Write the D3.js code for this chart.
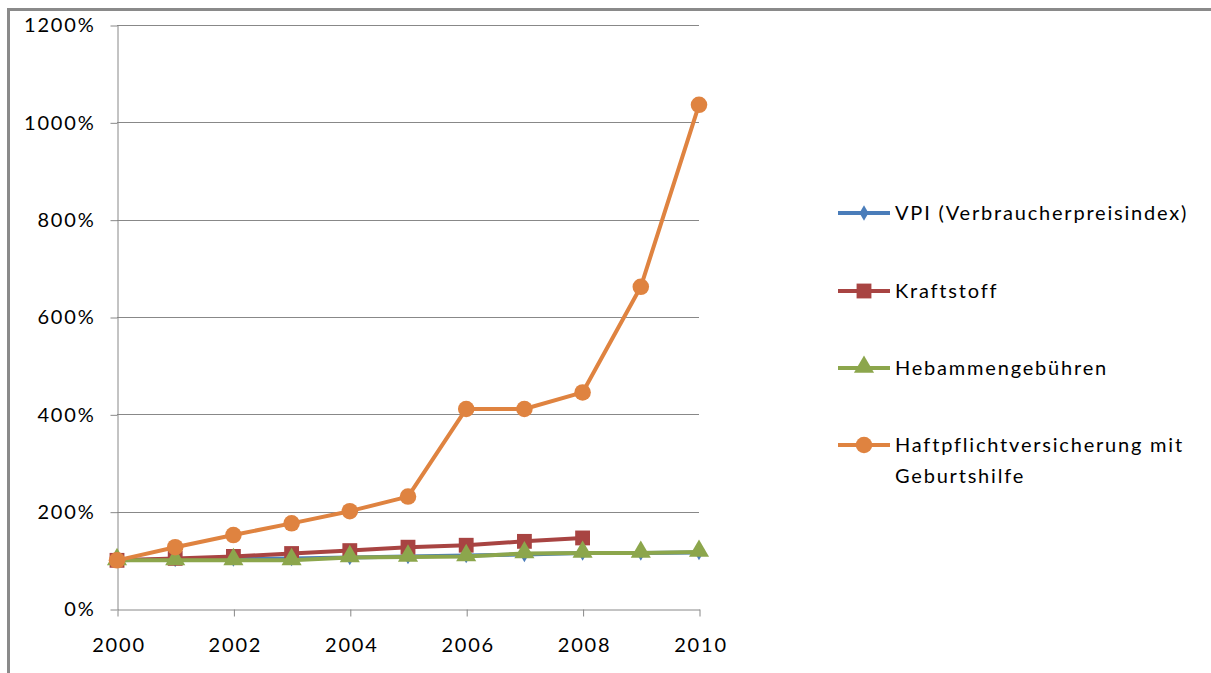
<!DOCTYPE html>
<html><head><meta charset="utf-8">
<script src="https://cdn.jsdelivr.net/npm/d3@7"></script>
<style>body{margin:0;background:#fff}svg{display:block}text{font-family:Lato,"Open Sans",sans-serif;fill:#000}</style>
</head><body>
<svg id="c" width="1211" height="673"></svg>
<script>
const years = [2000,2001,2002,2003,2004,2005,2006,2007,2008,2009,2010];
const yTicks = [0,200,400,600,800,1000,1200];
const xTicks = [2000,2002,2004,2006,2008,2010];
const vpi = [100,102,103,104,106,108,110,112,115,115,116];
const kraftstoff = [100,104,108,114,120,127,131,139,146,null,null];
const hebammen = [100,100,100,100,106,107,108,114,115,115,117];
const haftpflicht = [100,127,152,176,201,231,411,411,445,662,1036];
const seriesNames = ["VPI (Verbraucherpreisindex)","Kraftstoff","Hebammengebühren","Haftpflichtversicherung mit|Geburtshilfe"];

const series = [
  {name:seriesNames[0], values:vpi, color:"#4A7DBA", marker:"diamond"},
  {name:seriesNames[1], values:kraftstoff, color:"#A84442", marker:"square"},
  {name:seriesNames[2], values:hebammen, color:"#8CA64C", marker:"triangle"},
  {name:seriesNames[3], values:haftpflicht, color:"#DF8340", marker:"circle"}
];

const FS = 20, LS = "1.8px";
const svg = d3.select("#c");
// outer frame
svg.append("rect").attr("x",8.5).attr("y",9.5).attr("width",1300).attr("height",800)
  .attr("fill","none").attr("stroke","#8a8a8a").attr("stroke-width",3);

const x = d3.scaleLinear().domain([2000,2010]).range([117,699]);
const y = d3.scaleLinear().domain([0,1200]).range([609,25]);

// gridlines
svg.append("g").selectAll("line").data(yTicks.filter(d=>d>0)).join("line")
  .attr("x1",117).attr("x2",699).attr("y1",d=>Math.round(y(d))+0.5).attr("y2",d=>Math.round(y(d))+0.5)
  .attr("stroke","#888").attr("stroke-width",1);

// y axis
const ya = svg.append("g").attr("transform","translate(117.5,0.5)")
  .call(d3.axisLeft(y).tickValues(yTicks).tickSize(7).tickSizeOuter(0).tickPadding(15).tickFormat(d=>d+"%"));
ya.select(".domain").attr("stroke","#888");
ya.selectAll(".tick line").attr("stroke","#888");
ya.selectAll("text").attr("font-size",FS).attr("font-family","Lato, sans-serif").attr("fill","#000").style("letter-spacing",LS);

// x axis
const xa = svg.append("g").attr("transform","translate(0.5,609.5)")
  .call(d3.axisBottom(x).tickValues(xTicks).tickSize(7).tickSizeOuter(0).tickPadding(21).tickFormat(d3.format("d")));
xa.select(".domain").attr("stroke","#888");
xa.selectAll(".tick line").attr("stroke","#888");
xa.selectAll("text").attr("font-size",FS).attr("font-family","Lato, sans-serif").attr("fill","#000").style("letter-spacing",LS).attr("dx","1px");

const sym = {
  diamond: d3.symbol().type(d3.symbolDiamond).size(70),
  square: d3.symbol().type(d3.symbolSquare).size(220),
  triangle: d3.symbol().type(d3.symbolTriangle).size(175),
  circle: d3.symbol().type(d3.symbolCircle).size(215)
};

const line = d3.line().defined(d=>d[1]!=null).x(d=>x(d[0])).y(d=>y(d[1]));
series.forEach(s=>{
  const pts = years.map((yr,i)=>[yr,s.values[i]]);
  svg.append("path").datum(pts).attr("d",line).attr("fill","none")
    .attr("stroke",s.color).attr("stroke-width",4).attr("stroke-linejoin","round");
  svg.append("g").selectAll("path").data(pts.filter(d=>d[1]!=null)).join("path")
    .attr("d",sym[s.marker]).attr("fill",s.color)
    .attr("transform",d=>`translate(${x(d[0])},${y(d[1]) + (s.marker==="triangle"?-1:0)})`);
});

// legend
const legY = [213,291,368,445];
series.forEach((s,i)=>{
  const g = svg.append("g").attr("transform",`translate(0,${legY[i]})`);
  g.append("line").attr("x1",838).attr("x2",890).attr("y1",0).attr("y2",0)
    .attr("stroke",s.color).attr("stroke-width",4);
  g.append("path").attr("d",sym[s.marker]).attr("fill",s.color)
    .attr("transform",`translate(864,${s.marker==="triangle"?-1:0})`);
  const lines = s.name.split("|");
  lines.forEach((t,j)=>{
    g.append("text").attr("x",895).attr("y",j*31).attr("dy","0.35em")
      .attr("font-size",FS).style("letter-spacing",LS).text(t);
  });
});
</script>
</body></html>
